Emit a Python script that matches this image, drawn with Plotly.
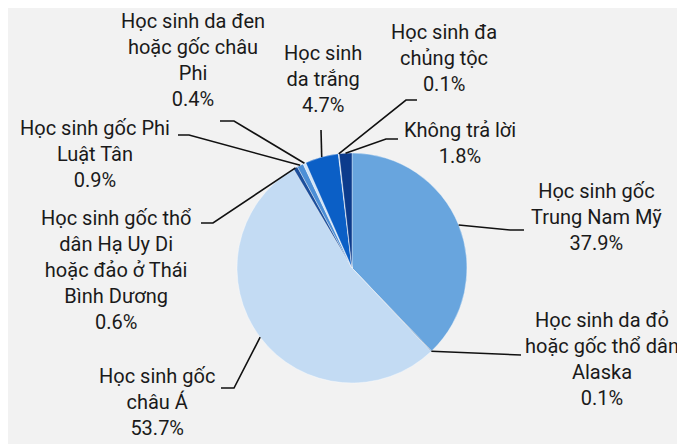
import numpy as np
import plotly.graph_objects as go

# ---- data ----
labels = [
    "Học sinh gốc<br>Trung Nam Mỹ",
    "Học sinh da đỏ<br>hoặc gốc thổ dân<br>Alaska",
    "Học sinh gốc<br>châu Á",
    "Học sinh gốc thổ<br>dân Hạ Uy Di<br>hoặc đảo ở Thái<br>Bình Dương",
    "Học sinh gốc Phi<br>Luật Tân",
    "Học sinh da đen<br>hoặc gốc châu<br>Phi",
    "Học sinh<br>da trắng",
    "Học sinh đa<br>chủng tộc",
    "Không trả lời",
]
values = [37.9, 0.1, 53.7, 0.6, 0.9, 0.4, 4.7, 0.1, 1.8]
colors = ["#68a5de", "#24558f", "#c3dbf3", "#1c4f9c", "#4d8fd6",
          "#cfe3f8", "#0b5fc6", "#d4e6f8", "#0c3b8c"]

# ---- layout geometry (px) ----
W, H = 685, 444
CX, CY, R = 344, 260, 115

# label block centres and leader-line attachment points (px)
label_pos = [(588, 209), (594, 351), (149, 394), (108, 262), (87, 146),
             (185, 52), (315, 71), (436, 50), (452, 135)]
leader_start = [[(516, 222), (502, 222)], [(513, 347)], [(213, 380), (226, 380)],
                [(193, 215), (205, 215)], [(170, 127), (181, 127)],
                [(212, 113), (226, 113)], [(313, 122)], [(409, 92), (398, 92)],
                [(390, 131), (378, 131)]]

fig = go.Figure()
fig.add_trace(go.Pie(
    labels=[l.replace("<br>", " ") for l in labels],
    values=values,
    sort=False,
    direction="clockwise",
    rotation=0,
    marker=dict(colors=colors, line=dict(color="rgba(255,255,255,0.6)", width=0.6)),
    textinfo="none",
    hoverinfo="label+value",
    showlegend=False,
    domain=dict(x=[(CX - R) / W, (CX + R) / W],
                y=[1 - (CY + R) / H, 1 - (CY - R) / H]),
))

total = sum(values)
cum = np.cumsum([0] + values)
mids = (cum[:-1] + cum[1:]) / 2 / total * 2 * np.pi

def px2paper(x, y):
    return x / W, 1 - y / H

annotations = []
shapes = []
for i, lab in enumerate(labels):
    pct = f"{values[i]:.1f}%"
    tx, ty = label_pos[i]
    nx, ny = px2paper(tx, ty)
    annotations.append(dict(
        x=nx, y=ny, xref="paper", yref="paper", showarrow=False,
        text=f"{lab}<br>{pct}", align="center",
        xanchor="center", yanchor="middle",
        font=dict(family="Roboto, sans-serif", size=20, color="#1a1a1a"),
    ))
    ex = CX + R * np.sin(mids[i])
    ey = CY - R * np.cos(mids[i])
    pts = leader_start[i] + [(ex, ey)]
    path = "M " + " L ".join(f"{px2paper(px, py)[0]:.5f},{px2paper(px, py)[1]:.5f}" for px, py in pts)
    shapes.append(dict(type="path", path=path, xref="paper", yref="paper",
                       line=dict(color="#111111", width=1.6)))

fig.update_layout(
    width=W, height=H,
    margin=dict(l=0, r=0, t=0, b=0),
    paper_bgcolor="#f2f2f2",
    plot_bgcolor="#f2f2f2",
    annotations=annotations,
    shapes=shapes,
)

fig.write_html("out.html")
